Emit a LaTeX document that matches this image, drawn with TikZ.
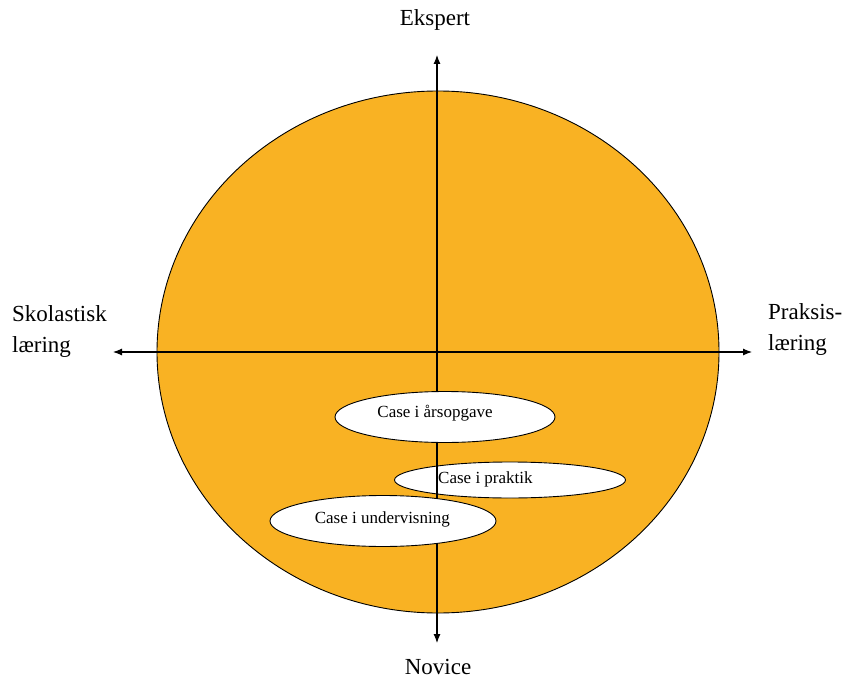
\documentclass[tikz,border=0pt]{standalone}
\usepackage{fontspec}
\setmainfont{Liberation Serif}
\usetikzlibrary{arrows.meta,shapes.geometric}
\definecolor{disc}{HTML}{F9B223}
\begin{document}
\begin{tikzpicture}[x=1pt,y=-1pt,
  axis/.style={line width=1.1pt,{Latex[length=9pt,width=7pt]}-{Latex[length=9pt,width=7pt]}},
  casebox/.style={draw=black,fill=white,line width=0.9pt,ellipse,inner sep=0pt},
  axislabel/.style={font=\fontsize{23}{26}\selectfont,inner sep=0pt},
  caselabel/.style={font=\fontsize{17}{19}\selectfont,inner sep=0pt}]
\useasboundingbox (0,0) rectangle (856,679);
% the disc
\draw[fill=disc,line width=0.9pt] (438,352) ellipse [x radius=281, y radius=261];
% case in practice sits under the axes
\node[casebox,minimum width=231pt,minimum height=36pt] (praktik) at (510,480) {};
% axes
\coordinate (W) at (113,352);
\coordinate (E) at (752,352);
\coordinate (N) at (437,55);
\coordinate (S) at (437,643);
\draw[axis] (W) -- (E);
\draw[axis] (N) -- (S);
% remaining cases over the axes
\node[casebox,minimum width=220pt,minimum height=51pt] (aars) at (445,417) {};
\node[casebox,minimum width=226pt,minimum height=51pt] (underv) at (383,521) {};
\node[caselabel] (taars) at (435,413) {Case i årsopgave};
\node[caselabel,anchor=west] (tprak) at (438,479) {Case i praktik};
\node[caselabel,anchor=east] (tund) at (450,519) {Case i undervisning};
% axis labels
\node[axislabel] (ekspert) at (435,20) {Ekspert};
\node[axislabel] (novice) at (438,667) {Novice};
\node[axislabel,anchor=west,align=left] (skol) at (12,332) {Skolastisk\\[5pt]læring};
\node[axislabel,anchor=west,align=left] (praks) at (768,330) {Praksis-\\[5pt]læring};
\end{tikzpicture}
\end{document}
